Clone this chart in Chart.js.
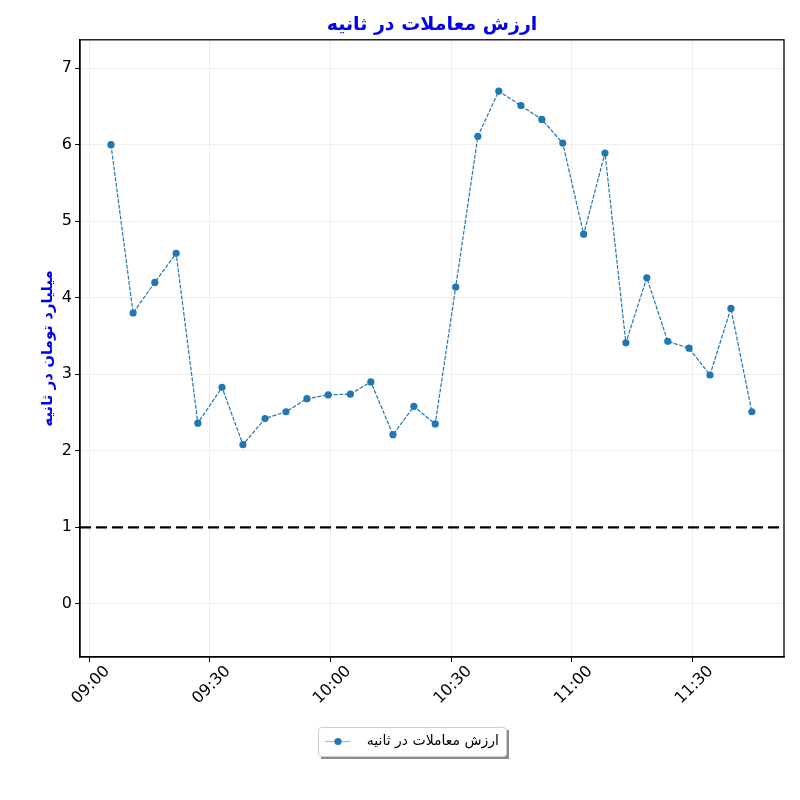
<!DOCTYPE html>
<html><head><meta charset="utf-8">
<script src="https://cdn.jsdelivr.net/npm/chart.js@4/dist/chart.umd.min.js"></script>
<style>html,body{margin:0;padding:0;background:#fff}</style>
</head><body>
<canvas id="c" width="800" height="800"></canvas>
<script>
const TITLE = 'ارزش معاملات در ثانیه';
const Y_LABEL = 'میلیارد تومان در ثانیه';
const SERIES_LABEL = 'ارزش معاملات در ثانیه';
// minutes after 09:00 of each sample
const MINUTES = [5.4, 10.9, 16.3, 21.6, 27.0, 33.0, 38.2, 43.7, 48.9, 54.1, 59.4, 64.9, 70.0, 75.5, 80.7, 86.0,
  91.1, 96.6, 101.8, 107.3, 112.5, 117.7, 122.9, 128.2, 133.4, 138.6, 143.8, 149.1, 154.3, 159.5, 164.7];
const VALUES = [6.00, 3.80, 4.20, 4.58, 2.36, 2.83, 2.08, 2.42, 2.51, 2.68, 2.73, 2.74, 2.90, 2.21, 2.58, 2.35,
  4.14, 6.11, 6.70, 6.51, 6.33, 6.02, 4.83, 5.89, 3.41, 4.26, 3.43, 3.34, 2.99, 3.86, 2.51];
const X_TICK_MINUTES = [0, 30, 60, 90, 120, 150];
const X_TICK_LABELS = ['09:00', '09:30', '10:00', '10:30', '11:00', '11:30'];
const Y_TICKS = [0, 1, 2, 3, 4, 5, 6, 7];
const THRESHOLD = 1;

const X_MIN = -2.3, X_MAX = 172.7, Y_MIN = -0.695, Y_MAX = 7.37;
const BLUE = '#1f77b4';
const FONT = 'DejaVu Sans';

const frame = {
  id: 'frame',
  afterDatasetsDraw(chart) {
    const {ctx, chartArea: a, scales} = chart;
    ctx.save();
    // threshold line
    const y = scales.y.getPixelForValue(THRESHOLD);
    ctx.strokeStyle = '#000';
    ctx.lineWidth = 2.2;
    ctx.setLineDash([11, 5]);
    ctx.beginPath(); ctx.moveTo(a.left, y); ctx.lineTo(a.right, y); ctx.stroke();
    ctx.setLineDash([]);
    ctx.lineWidth = 1.3;
    ctx.strokeRect(a.left, a.top, a.right - a.left, a.bottom - a.top);
    // legend
    const lx = 318, ly = 727, lw = 188, lh = 29;
    ctx.fillStyle = 'rgba(0,0,0,0.45)';
    ctx.fillRect(lx + 3, ly + 3, lw, lh);
    ctx.fillStyle = '#fff';
    ctx.strokeStyle = '#cccccc';
    ctx.lineWidth = 1;
    ctx.beginPath(); ctx.roundRect(lx + 0.5, ly + 0.5, lw, lh, 3); ctx.fill(); ctx.stroke();
    ctx.strokeStyle = 'rgba(31,119,180,0.45)';
    ctx.lineWidth = 1.3;
    ctx.beginPath(); ctx.moveTo(325, ly + 14.5); ctx.lineTo(350, ly + 14.5); ctx.stroke();
    ctx.fillStyle = BLUE;
    ctx.beginPath(); ctx.arc(338, ly + 14.5, 3.6, 0, Math.PI * 2); ctx.fill();
    ctx.fillStyle = '#000';
    ctx.font = '14px "' + FONT + '"';
    ctx.textAlign = 'right';
    ctx.textBaseline = 'middle';
    ctx.fillText(SERIES_LABEL, 499, ly + 14.5);
    ctx.restore();
  }
};

new Chart(document.getElementById('c'), {
  type: 'scatter',
  data: {
    datasets: [{
      label: SERIES_LABEL,
      data: MINUTES.map((m, i) => ({x: m, y: VALUES[i]})),
      showLine: true,
      borderColor: BLUE,
      borderWidth: 1.2,
      borderDash: [4, 1.5],
      backgroundColor: BLUE,
      pointRadius: 3.6,
      pointBorderWidth: 0,
      pointBackgroundColor: BLUE,
      tension: 0
    }]
  },
  options: {
    responsive: false,
    animation: false,
    devicePixelRatio: 1,
    layout: {padding: {left: 0, right: 16, top: 0, bottom: 0}},
    plugins: {
      legend: {display: false},
      tooltip: {enabled: false},
      title: {
        display: true, text: TITLE, color: '#0000ee', fullSize: false,
        font: {family: FONT, size: 19, weight: 'bold'},
        padding: {top: 14, bottom: 3}
      }
    },
    scales: {
      x: {
        type: 'linear', min: X_MIN, max: X_MAX,
        afterFit(s) { s.height = 143; },
        afterBuildTicks(s) { s.ticks = X_TICK_MINUTES.map(v => ({value: v})); },
        ticks: {
          callback: (v) => X_TICK_LABELS[X_TICK_MINUTES.indexOf(v)],
          color: '#000', font: {family: FONT, size: 16},
          maxRotation: 45, minRotation: 45, labelOffset: 18, padding: 0
        },
        grid: {color: '#eeeeee', tickColor: '#000', tickLength: 5, lineWidth: 1},
        border: {display: true, color: '#000', width: 1.3}
      },
      y: {
        min: Y_MIN, max: Y_MAX,
        afterFit(s) { s.width = 80; },
        afterBuildTicks(s) { s.ticks = Y_TICKS.map(v => ({value: v})); },
        ticks: {color: '#000', font: {family: FONT, size: 16}, padding: 3},
        grid: {color: '#eeeeee', tickColor: '#000', tickLength: 5, lineWidth: 1},
        border: {display: true, color: '#000', width: 1.3},
        title: {
          display: true, text: Y_LABEL, color: '#0000ee',
          font: {family: FONT, size: 15, weight: 'bold'},
          padding: {top: 39, bottom: 0}
        }
      }
    }
  },
  plugins: [frame]
});
</script>
</body></html>
